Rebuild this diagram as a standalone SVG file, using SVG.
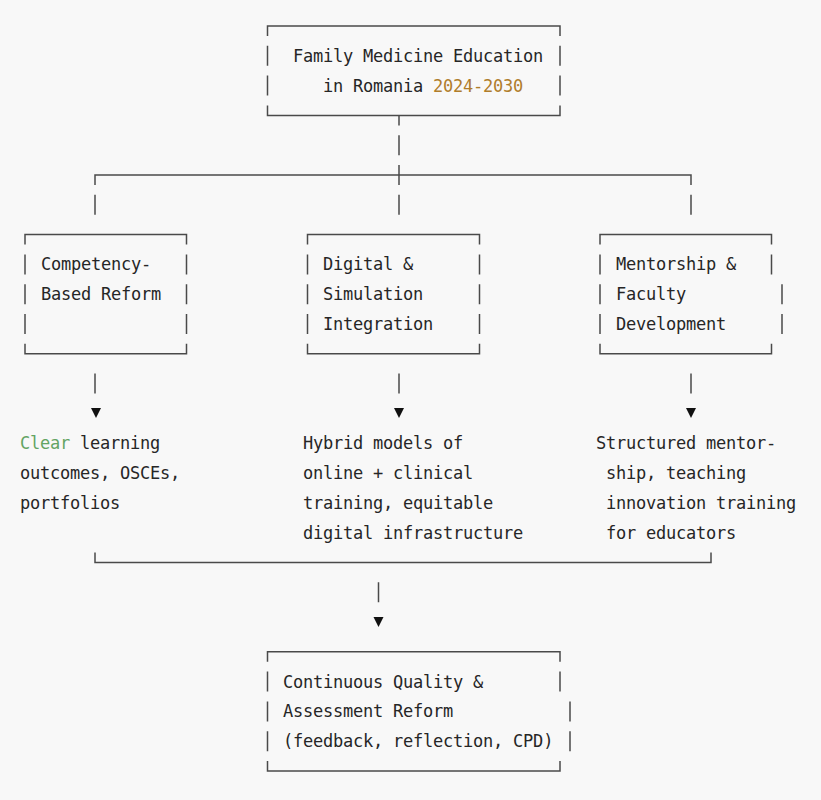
<svg xmlns="http://www.w3.org/2000/svg" width="821" height="800" viewBox="0 0 821 800">
<style>
.bg{fill:#f8f8f8}
.ln{fill:none;stroke:#4a4a4a;stroke-width:1.5}
.ah{fill:#111}
.t{font-family:"DejaVu Sans Mono","Liberation Mono",monospace;font-size:17px;letter-spacing:-0.23px;fill:#262626}
.yr{fill:#b07d2b}
.gr{fill:#63a463}
</style>
<rect class="bg" x="0" y="0" width="821" height="800"/>

<g id="connectors">
<path class="ln" d="M399,115.4 V125.4 M399,135.2 V155.2 M399,165 V185 M95,185 V175 H691 V185 M95,194.8 V214.8 M399,194.8 V214.8 M691,194.8 V214.8"/>
<path class="ln" d="M95,373.6 V393.6 M399,373.6 V393.6 M691,373.6 V393.6"/>
<polygon class="ah" points="91,408 101,408 96,418"/>
<polygon class="ah" points="394,408 404,408 399,418"/>
<polygon class="ah" points="686,408 696,408 691,418"/>
<path class="ln" d="M95,552.4 V562.4 H711 V552.4 M378.5,582.2 V602.2"/>
<polygon class="ah" points="373.5,617 383.5,617 378.5,627"/>
</g>

<g id="node-top">
<path class="ln" d="M267.5,36 V26 H560 V36 M267.5,105.4 V115.4 H560 V105.4 M267.5,45.8 V65.8 M267.5,75.6 V95.6 M560,45.8 V65.8 M560,75.6 V95.6"/>
<text class="t" x="293" y="61.8">Family Medicine Education</text>
<text class="t" x="323" y="91.6">in Romania <tspan class="yr">2024-2030</tspan></text>
</g>

<g id="node-competency">
<path class="ln" d="M25,244.6 V234.6 H186.5 V244.6 M25,343.8 V353.8 H186.5 V343.8 M25,254.4 V274.4 M25,284.2 V304.2 M25,314 V334 M186.5,254.4 V274.4 M186.5,284.2 V304.2 M186.5,314 V334"/>
<text class="t" x="41" y="270.4">Competency-</text>
<text class="t" x="41" y="300.2">Based Reform</text>
</g>

<g id="node-digital">
<path class="ln" d="M307.5,244.6 V234.6 H479.5 V244.6 M307.5,343.8 V353.8 H479.5 V343.8 M307.5,254.4 V274.4 M307.5,284.2 V304.2 M307.5,314 V334 M479.5,254.4 V274.4 M479.5,284.2 V304.2 M479.5,314 V334"/>
<text class="t" x="323" y="270.4">Digital &amp;</text>
<text class="t" x="323" y="300.2">Simulation</text>
<text class="t" x="323" y="330">Integration</text>
</g>

<g id="node-mentorship">
<path class="ln" d="M600,244.6 V234.6 H771.5 V244.6 M600,343.8 V353.8 H771.5 V343.8 M600,254.4 V274.4 M600,284.2 V304.2 M600,314 V334 M771.5,254.4 V274.4 M782,284.2 V304.2 M782,314 V334"/>
<text class="t" x="616" y="270.4">Mentorship &amp;</text>
<text class="t" x="616" y="300.2">Faculty</text>
<text class="t" x="616" y="330">Development</text>
</g>

<g id="text-competency">
<text class="t" x="20" y="449.2"><tspan class="gr">Clear</tspan> learning</text>
<text class="t" x="20" y="479">outcomes, OSCEs,</text>
<text class="t" x="20" y="508.8">portfolios</text>
</g>

<g id="text-digital">
<text class="t" x="303" y="449.2">Hybrid models of</text>
<text class="t" x="303" y="479">online + clinical</text>
<text class="t" x="303" y="508.8">training, equitable</text>
<text class="t" x="303" y="538.6">digital infrastructure</text>
</g>

<g id="text-mentorship">
<text class="t" x="596" y="449.2">Structured mentor-</text>
<text class="t" x="606" y="479">ship, teaching</text>
<text class="t" x="606" y="508.8">innovation training</text>
<text class="t" x="606" y="538.6">for educators</text>
</g>

<g id="node-quality">
<path class="ln" d="M267.5,661.8 V651.8 H560 V661.8 M267.5,761 V771 H560 V761 M267.5,671.6 V691.6 M267.5,701.4 V721.4 M267.5,731.2 V751.2 M560,671.6 V691.6 M570,701.4 V721.4 M570,731.2 V751.2"/>
<text class="t" x="283" y="687.6">Continuous Quality &amp;</text>
<text class="t" x="283" y="717.4">Assessment Reform</text>
<text class="t" x="283" y="747.2">(feedback, reflection, CPD)</text>
</g>
</svg>
